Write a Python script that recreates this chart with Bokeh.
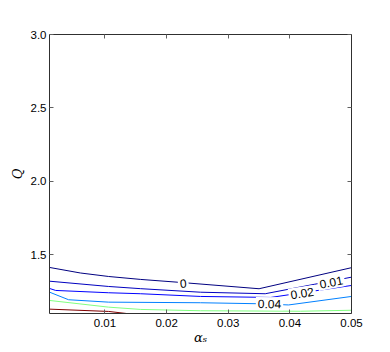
from bokeh.plotting import figure
from bokeh.models import ColumnDataSource, LinearAxis, FixedTicker, Range1d
from bokeh.core.properties import value
from bokeh.embed import file_html
from bokeh.resources import INLINE

# contour levels and colours (jet colormap)
levels = [0, 0.01, 0.02, 0.04, 0.08, 0.16]
level_colors = ["#000080", "#0000bf", "#0000ff", "#0080ff", "#80ff80", "#800000"]

# contour lines (alpha_s, Q)
alpha_0 = [0.001, 0.0060, 0.0106, 0.0158, 0.0223, 0.035, 0.05]
q_0 = [1.4136, 1.376, 1.352, 1.332, 1.3115, 1.2686, 1.412]

alpha_001 = [0.001, 0.0106, 0.0158, 0.0255, 0.036, 0.05]
q_001 = [1.320, 1.284, 1.269, 1.245, 1.2345, 1.3475]

alpha_002 = [0.001, 0.002, 0.0106, 0.0158, 0.0255, 0.0369, 0.05]
q_002 = [1.2706, 1.257, 1.2413, 1.2345, 1.2161, 1.2093, 1.291]

alpha_004 = [0.001, 0.0041, 0.0106, 0.0255, 0.0349, 0.0398, 0.05]
q_004 = [1.2454, 1.1937, 1.1773, 1.1733, 1.1665, 1.1583, 1.2161]

alpha_008 = [0.001, 0.0106, 0.0158, 0.0255, 0.0417, 0.05]
q_008 = [1.1889, 1.1433, 1.1277, 1.1188, 1.1154, 1.1222]

alpha_016 = [0.001, 0.0106, 0.0135]
q_016 = [1.1297, 1.114, 1.100]

# inline contour labels
label_texts = ["0", "0.01", "0.02", "0.04"]
label_alpha = [0.0227, 0.0467, 0.0420, 0.0367]
label_q = [1.3067, 1.3135, 1.2386, 1.1665]
label_angle = [0.08, 0.19, 0.147, -0.01]

# axes
x_ticks = [0.01, 0.02, 0.03, 0.04, 0.05]
x_tick_labels = ["0.01", "0.02", "0.03", "0.04", "0.05"]
y_ticks = [1.5, 2.0, 2.5, 3.0]
y_tick_labels = ["1.5", "2.0", "2.5", "3.0"]
x_limits = (0.001, 0.05)
y_limits = (1.1, 3.0)
x_title = "αₛ"
y_title = "Q"

p = figure(width=390, height=352, output_backend="svg", toolbar_location=None,
           x_range=Range1d(*x_limits), y_range=Range1d(*y_limits),
           min_border_left=49, min_border_right=39, min_border_top=34, min_border_bottom=39,
           background_fill_color="white", border_fill_color="white")
p.outline_line_color = None
p.xgrid.visible = False
p.ygrid.visible = False

src = ColumnDataSource(dict(
    xs=[alpha_0, alpha_001, alpha_002, alpha_004, alpha_008, alpha_016],
    ys=[q_0, q_001, q_002, q_004, q_008, q_016],
    color=level_colors,
))
p.multi_line(xs="xs", ys="ys", line_color="color", line_width=1, source=src)

lsrc = ColumnDataSource(dict(x=label_alpha, y=label_q, text=label_texts, angle=label_angle))
p.text(x="x", y="y", text="text", angle="angle", source=lsrc,
       text_font=value("Liberation Sans"), text_font_size="12px", text_color="black",
       text_align="center", text_baseline="middle",
       background_fill_color="white", padding=2)

def style_axis(ax, labels=True):
    ax.axis_line_color = "#303030"
    ax.axis_line_width = 1
    ax.major_tick_in = 4
    ax.major_tick_out = 0
    ax.major_tick_line_color = "#606060"
    ax.minor_tick_line_color = None
    ax.major_label_text_font = "Liberation Sans"
    ax.major_label_text_font_size = "11.5px"
    ax.major_label_text_color = "black"
    ax.axis_label_text_font = "DejaVu Serif"
    ax.axis_label_text_font_style = "italic"
    ax.axis_label_text_font_size = "13px"
    ax.axis_label_text_color = "black"
    if not labels:
        ax.major_label_text_font_size = "0px"
        ax.major_label_text_color = None

p.xaxis.ticker = FixedTicker(ticks=x_ticks)
p.xaxis.major_label_overrides = dict(zip(x_ticks, x_tick_labels))
p.xaxis.major_label_standoff = 5
p.yaxis.ticker = FixedTicker(ticks=y_ticks)
p.yaxis.major_label_overrides = dict(zip(y_ticks, y_tick_labels))
p.yaxis.major_label_standoff = 3
style_axis(p.xaxis[0])
style_axis(p.yaxis[0])
p.xaxis.axis_label = x_title
p.xaxis.axis_label_standoff = 0
p.yaxis.axis_label = y_title
p.yaxis.axis_label_standoff = 3

top = LinearAxis(ticker=FixedTicker(ticks=x_ticks))
right = LinearAxis(ticker=FixedTicker(ticks=y_ticks))
style_axis(top, labels=False)
style_axis(right, labels=False)
top.major_label_standoff = 0
right.major_label_standoff = 0
p.add_layout(top, "above")
p.add_layout(right, "right")

open("out.html", "w").write(file_html(p, INLINE))
